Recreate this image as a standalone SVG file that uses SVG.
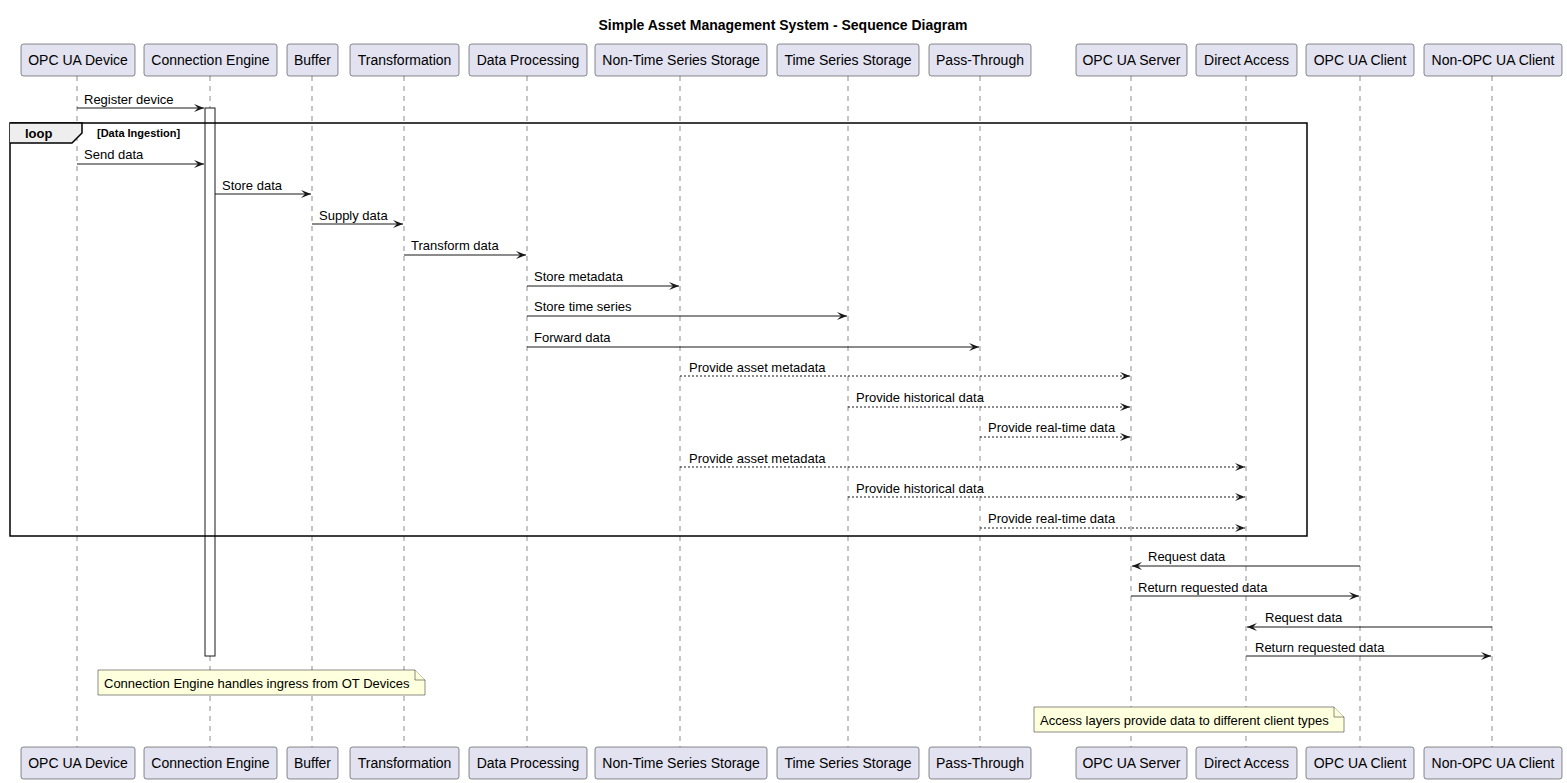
<svg xmlns="http://www.w3.org/2000/svg" width="1567" height="783" viewBox="0 0 1567 783">
<defs>
<style>
text{font-family:"Liberation Sans",Arial,sans-serif;fill:#000}
.pbox{fill:#E2E2F0;stroke:#181818;stroke-width:0.5}
.pt{font-size:14px;text-anchor:middle}
.life{stroke:#181818;stroke-width:0.5;stroke-dasharray:5,5}
.msg{stroke:#181818;stroke-width:1;fill:none}
.dash{stroke-dasharray:2,2}
.mt{font-size:13px}
.note{fill:#FEFFDD;stroke:#181818;stroke-width:0.5}
.nt{font-size:13px}
</style>
<marker id="ah" viewBox="-11 -5 12 10" refX="0" refY="0" markerWidth="12" markerHeight="10" markerUnits="userSpaceOnUse" orient="auto">
<path d="M0,0 L-10,-4 L-6,0 L-10,4 Z" fill="#181818"/>
</marker>
</defs>
<rect width="1567" height="783" fill="#FFFFFF"/>
<text x="783" y="30" style="font-size:14px;font-weight:bold;text-anchor:middle">Simple Asset Management System - Sequence Diagram</text>

<g id="lifelines">
<line class="life" x1="77" y1="76" x2="77" y2="747"/>
<line class="life" x1="210" y1="76" x2="210" y2="747"/>
<line class="life" x1="312" y1="76" x2="312" y2="747"/>
<line class="life" x1="404" y1="76" x2="404" y2="747"/>
<line class="life" x1="527" y1="76" x2="527" y2="747"/>
<line class="life" x1="680" y1="76" x2="680" y2="747"/>
<line class="life" x1="848" y1="76" x2="848" y2="747"/>
<line class="life" x1="980" y1="76" x2="980" y2="747"/>
<line class="life" x1="1131" y1="76" x2="1131" y2="747"/>
<line class="life" x1="1246" y1="76" x2="1246" y2="747"/>
<line class="life" x1="1360" y1="76" x2="1360" y2="747"/>
<line class="life" x1="1492" y1="76" x2="1492" y2="747"/>
</g>

<g id="p-opcua-device">
<rect class="pbox" x="21" y="44" width="114" height="32" rx="2.5"/>
<text class="pt" x="78" y="65">OPC UA Device</text>
<rect class="pbox" x="21" y="747" width="114" height="32" rx="2.5"/>
<text class="pt" x="78" y="768">OPC UA Device</text>
</g>
<g id="p-connection-engine">
<rect class="pbox" x="144" y="44" width="133" height="32" rx="2.5"/>
<text class="pt" x="210.5" y="65">Connection Engine</text>
<rect class="pbox" x="144" y="747" width="133" height="32" rx="2.5"/>
<text class="pt" x="210.5" y="768">Connection Engine</text>
</g>
<g id="p-buffer">
<rect class="pbox" x="287" y="44" width="51" height="32" rx="2.5"/>
<text class="pt" x="312.5" y="65">Buffer</text>
<rect class="pbox" x="287" y="747" width="51" height="32" rx="2.5"/>
<text class="pt" x="312.5" y="768">Buffer</text>
</g>
<g id="p-transformation">
<rect class="pbox" x="350" y="44" width="109" height="32" rx="2.5"/>
<text class="pt" x="404.5" y="65">Transformation</text>
<rect class="pbox" x="350" y="747" width="109" height="32" rx="2.5"/>
<text class="pt" x="404.5" y="768">Transformation</text>
</g>
<g id="p-data-processing">
<rect class="pbox" x="469" y="44" width="118" height="32" rx="2.5"/>
<text class="pt" x="528" y="65">Data Processing</text>
<rect class="pbox" x="469" y="747" width="118" height="32" rx="2.5"/>
<text class="pt" x="528" y="768">Data Processing</text>
</g>
<g id="p-non-ts-storage">
<rect class="pbox" x="595" y="44" width="172" height="32" rx="2.5"/>
<text class="pt" x="681" y="65">Non-Time Series Storage</text>
<rect class="pbox" x="595" y="747" width="172" height="32" rx="2.5"/>
<text class="pt" x="681" y="768">Non-Time Series Storage</text>
</g>
<g id="p-ts-storage">
<rect class="pbox" x="777" y="44" width="142" height="32" rx="2.5"/>
<text class="pt" x="848" y="65">Time Series Storage</text>
<rect class="pbox" x="777" y="747" width="142" height="32" rx="2.5"/>
<text class="pt" x="848" y="768">Time Series Storage</text>
</g>
<g id="p-pass-through">
<rect class="pbox" x="929" y="44" width="102" height="32" rx="2.5"/>
<text class="pt" x="980" y="65">Pass-Through</text>
<rect class="pbox" x="929" y="747" width="102" height="32" rx="2.5"/>
<text class="pt" x="980" y="768">Pass-Through</text>
</g>
<g id="p-opcua-server">
<rect class="pbox" x="1076" y="44" width="111" height="32" rx="2.5"/>
<text class="pt" x="1131.5" y="65">OPC UA Server</text>
<rect class="pbox" x="1076" y="747" width="111" height="32" rx="2.5"/>
<text class="pt" x="1131.5" y="768">OPC UA Server</text>
</g>
<g id="p-direct-access">
<rect class="pbox" x="1196" y="44" width="101" height="32" rx="2.5"/>
<text class="pt" x="1246.5" y="65">Direct Access</text>
<rect class="pbox" x="1196" y="747" width="101" height="32" rx="2.5"/>
<text class="pt" x="1246.5" y="768">Direct Access</text>
</g>
<g id="p-opcua-client">
<rect class="pbox" x="1306" y="44" width="108" height="32" rx="2.5"/>
<text class="pt" x="1360" y="65">OPC UA Client</text>
<rect class="pbox" x="1306" y="747" width="108" height="32" rx="2.5"/>
<text class="pt" x="1360" y="768">OPC UA Client</text>
</g>
<g id="p-non-opcua-client">
<rect class="pbox" x="1424" y="44" width="138" height="32" rx="2.5"/>
<text class="pt" x="1493" y="65">Non-OPC UA Client</text>
<rect class="pbox" x="1424" y="747" width="138" height="32" rx="2.5"/>
<text class="pt" x="1493" y="768">Non-OPC UA Client</text>
</g>

<g id="activation">
<rect x="205" y="108" width="10" height="548" fill="#FFFFFF" stroke="#181818" stroke-width="1"/>
</g>

<g id="loop-frame">
<rect x="10" y="123" width="1297" height="413" fill="none" stroke="#000000" stroke-width="1.5"/>
<path d="M10,123 L82,123 L82,133 L72,143 L10,143" fill="#EEEEEE" stroke="#000000" stroke-width="1.5"/>
<text x="25" y="138" style="font-size:13px;font-weight:bold">loop</text>
<text x="97" y="137" style="font-size:11px;font-weight:bold">[Data Ingestion]</text>
</g>

<g id="connectors">
<line class="msg" x1="77" y1="108" x2="204" y2="108" marker-end="url(#ah)"/>
<text class="mt" x="84" y="104">Register device</text>
<line class="msg" x1="77" y1="164" x2="204" y2="164" marker-end="url(#ah)"/>
<text class="mt" x="84" y="159">Send data</text>
<line class="msg" x1="215" y1="194" x2="311" y2="194" marker-end="url(#ah)"/>
<text class="mt" x="222" y="190">Store data</text>
<line class="msg" x1="312" y1="224" x2="403" y2="224" marker-end="url(#ah)"/>
<text class="mt" x="319" y="220">Supply data</text>
<line class="msg" x1="404" y1="255" x2="526" y2="255" marker-end="url(#ah)"/>
<text class="mt" x="411" y="250">Transform data</text>
<line class="msg" x1="527" y1="286" x2="679" y2="286" marker-end="url(#ah)"/>
<text class="mt" x="534" y="281">Store metadata</text>
<line class="msg" x1="527" y1="316" x2="847" y2="316" marker-end="url(#ah)"/>
<text class="mt" x="534" y="311">Store time series</text>
<line class="msg" x1="527" y1="347" x2="979" y2="347" marker-end="url(#ah)"/>
<text class="mt" x="534" y="342">Forward data</text>
<line class="msg dash" x1="680" y1="376" x2="1130" y2="376" marker-end="url(#ah)"/>
<text class="mt" x="689" y="372">Provide asset metadata</text>
<line class="msg dash" x1="848" y1="407" x2="1130" y2="407" marker-end="url(#ah)"/>
<text class="mt" x="856" y="402">Provide historical data</text>
<line class="msg dash" x1="980" y1="437" x2="1130" y2="437" marker-end="url(#ah)"/>
<text class="mt" x="988" y="432">Provide real-time data</text>
<line class="msg dash" x1="680" y1="467" x2="1245" y2="467" marker-end="url(#ah)"/>
<text class="mt" x="689" y="463">Provide asset metadata</text>
<line class="msg dash" x1="848" y1="497" x2="1245" y2="497" marker-end="url(#ah)"/>
<text class="mt" x="856" y="493">Provide historical data</text>
<line class="msg dash" x1="980" y1="528" x2="1245" y2="528" marker-end="url(#ah)"/>
<text class="mt" x="988" y="523">Provide real-time data</text>
<line class="msg" x1="1360" y1="566" x2="1132" y2="566" marker-end="url(#ah)"/>
<text class="mt" x="1148" y="561">Request data</text>
<line class="msg" x1="1131" y1="596" x2="1359" y2="596" marker-end="url(#ah)"/>
<text class="mt" x="1138" y="592">Return requested data</text>
<line class="msg" x1="1492" y1="627" x2="1247" y2="627" marker-end="url(#ah)"/>
<text class="mt" x="1265" y="622">Request data</text>
<line class="msg" x1="1246" y1="656" x2="1491" y2="656" marker-end="url(#ah)"/>
<text class="mt" x="1255" y="652">Return requested data</text>
</g>

<g id="note-connection-engine">
<path class="note" d="M98,670 L415,670 L425,680 L425,695 L98,695 Z"/>
<path class="note" d="M415,670 L415,680 L425,680" fill="none"/>
<text class="nt" x="104" y="688">Connection Engine handles ingress from OT Devices</text>
</g>
<g id="note-access-layers">
<path class="note" d="M1034,707 L1334,707 L1344,717 L1344,732 L1034,732 Z"/>
<path class="note" d="M1334,707 L1334,717 L1344,717" fill="none"/>
<text class="nt" x="1040" y="725">Access layers provide data to different client types</text>
</g>
</svg>
